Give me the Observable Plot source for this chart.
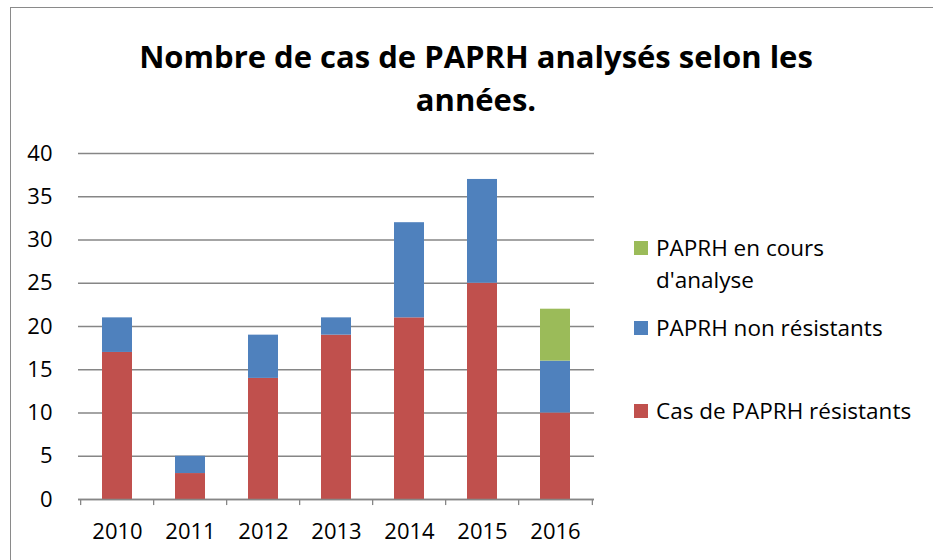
<!DOCTYPE html>
<html>
<head>
<meta charset="utf-8">
<script src="https://cdn.jsdelivr.net/npm/d3@7"></script>
<script src="https://cdn.jsdelivr.net/npm/@observablehq/plot@0.6"></script>
<style>
  html, body { margin: 0; padding: 0; background: #fff; overflow: hidden; }
  #wrap { position: relative; width: 933px; height: 560px; font-family: "Open Sans", sans-serif; color: #000; }
  #frame { position: absolute; left: 10px; top: 7px; width: 940px; height: 570px; border: 1.5px solid #8a8a8a; box-sizing: border-box; }
  #title { position: absolute; left: 0; width: 952px; top: 35px; text-align: center; font-weight: bold; font-size: 31px; line-height: 43px; }
  #chart { position: absolute; left: 0; top: 0; }
  .leg { position: absolute; left: 634px; font-size: 22.5px; line-height: 32px; }
  .leg .sw { position: absolute; left: 0; top: 9px; width: 14px; height: 14px; }
  .leg .tx { position: absolute; left: 22px; white-space: nowrap; }
</style>
</head>
<body>
<div id="wrap">
  <div id="frame"></div>
  <div id="title">Nombre de cas de PAPRH analysés selon les<br>années.</div>
  <div id="chart"></div>
  <div id="legend"></div>
</div>
<script>
const years = ["2010", "2011", "2012", "2013", "2014", "2015", "2016"];
const resistants = [17, 3, 14, 19, 21, 25, 10];
const nonResistants = [4, 2, 5, 2, 11, 12, 6];
const enCours = [0, 0, 0, 0, 0, 0, 6];
const seriesNames = ["Cas de PAPRH résistants", "PAPRH non résistants", "PAPRH en cours d'analyse"];
const seriesColors = ["#C0504D", "#4F81BD", "#9BBB59"];
const yTicks = [0, 5, 10, 15, 20, 25, 30, 35, 40];

const seriesValues = [resistants, nonResistants, enCours];
const rows = [];
seriesNames.forEach((s, si) => {
  years.forEach((y, i) => rows.push({ year: y, series: s, value: seriesValues[si][i] }));
});

const W = 933, H = 560;
const mL = 78, mR = 339, mT = 153, mB = 61;
const step = (W - mL - mR) / years.length;

const plot = Plot.plot({
  width: W,
  height: H,
  marginLeft: mL,
  marginRight: mR,
  marginTop: mT,
  marginBottom: mB,
  style: { fontFamily: "Open Sans, sans-serif", fontSize: "22px", color: "#000", background: "transparent", overflow: "visible" },
  x: { domain: years, paddingInner: 0.59, paddingOuter: 0.295, label: null, axis: null },
  y: { domain: [0, 40], ticks: yTicks, label: null, axis: null },
  color: { domain: seriesNames, range: seriesColors },
  marks: [
    Plot.gridY(yTicks, { stroke: "#868686", strokeOpacity: 1, strokeWidth: 1.3 }),
    Plot.barY(rows, { x: "year", y: "value", fill: "series", order: seriesNames }),
    Plot.ruleY([0], { stroke: "#868686", strokeWidth: 1.3 }),
    Plot.ruleX(years, { x: d => d, y1: 0, y2: -0.7, dx: -step / 2, stroke: "#868686", strokeWidth: 1.3 }),
    Plot.ruleX(years.slice(-1), { x: d => d, y1: 0, y2: -0.7, dx: step / 2, stroke: "#868686", strokeWidth: 1.3 }),
    Plot.axisY(yTicks, { tickSize: 0, tickPadding: 26, fontSize: 22, anchor: "left", label: null }),
    Plot.axisX(years, { tickSize: 0, tickPadding: 24, fontSize: 22, anchor: "bottom", label: null })
  ]
});
document.getElementById("chart").appendChild(plot);

// legend (HTML)
const legendItems = [
  { name: seriesNames[2], color: seriesColors[2], top: 232, html: "PAPRH en cours<br>d'analyse" },
  { name: seriesNames[1], color: seriesColors[1], top: 312, html: "PAPRH non résistants" },
  { name: seriesNames[0], color: seriesColors[0], top: 395, html: "Cas de PAPRH résistants" }
];
const leg = document.getElementById("legend");
legendItems.forEach(it => {
  const d = document.createElement("div");
  d.className = "leg";
  d.style.top = it.top + "px";
  d.innerHTML = `<div class="sw" style="background:${it.color}"></div><div class="tx">${it.html}</div>`;
  leg.appendChild(d);
});
</script>
</body>
</html>
